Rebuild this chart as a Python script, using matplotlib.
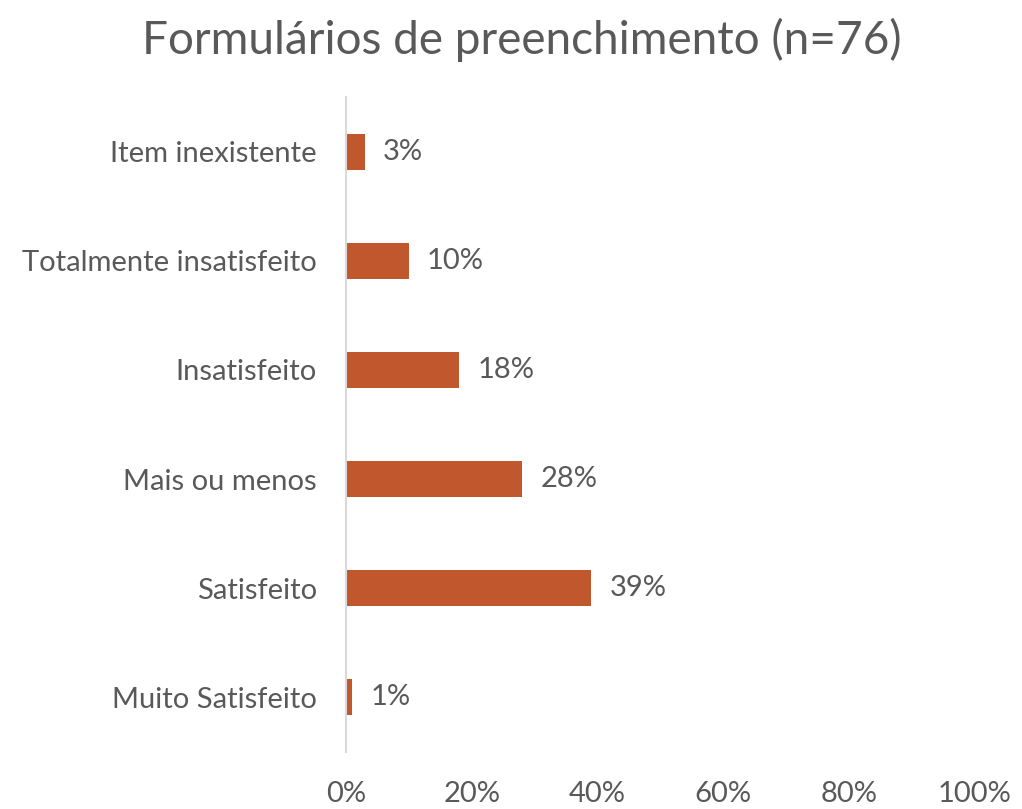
import matplotlib
matplotlib.use("Agg")
from matplotlib import pyplot as plt

categorias = ["Item inexistente", "Totalmente insatisfeito", "Insatisfeito",
              "Mais ou menos", "Satisfeito", "Muito Satisfeito"]
valores = [3, 10, 18, 28, 39, 1]
ticks_x = [0, 20, 40, 60, 80, 100]

plt.rcParams['font.family'] = ['Lato', 'DejaVu Sans']
cor_texto = "#595959"
cor_barra = "#C0572D"

fig = plt.figure(figsize=(10.22, 8.09), dpi=100)
ax = fig.add_axes([0.3386, 0.0705, 0.6154, 0.8095])

pos = list(range(len(categorias)))
ax.barh(pos, valores, height=0.33, color=cor_barra)
for y, v in zip(pos, valores):
    ax.annotate(f"{v}%", (v, y), xytext=(13, 0), textcoords="offset points",
                va="center", ha="left", fontsize=21, color=cor_texto)

ax.set_ylim(len(categorias) - 0.5, -0.5)
ax.set_xlim(0, 100)
ax.set_yticks(pos)
ax.set_yticklabels(categorias)
ax.set_xticks(ticks_x)
ax.set_xticklabels([f"{t}%" for t in ticks_x])
ax.tick_params(axis="both", length=0, labelsize=21, labelcolor=cor_texto)
ax.tick_params(axis="x", pad=21)
ax.tick_params(axis="y", pad=21)

for s in ["top", "right", "bottom"]:
    ax.spines[s].set_visible(False)
ax.spines["left"].set_color("#D9D9D9")
ax.spines["left"].set_linewidth(1.5)

fig.text(0.511, 0.951, "Formulários de preenchimento (n=76)", ha="center", va="center",
         fontsize=33, color=cor_texto)

fig.savefig("out.png", dpi=100)
